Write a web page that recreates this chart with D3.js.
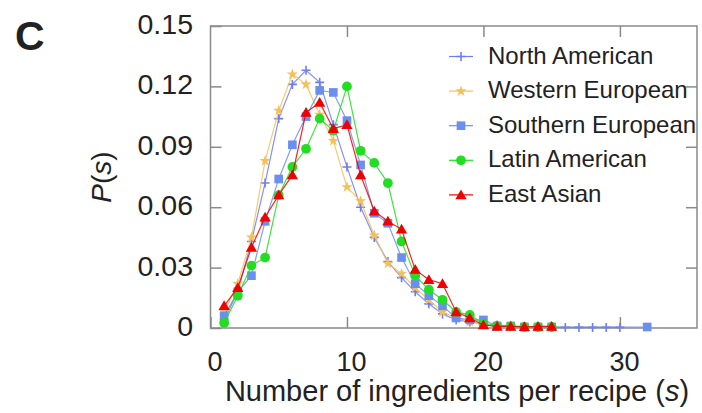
<!DOCTYPE html>
<html><head><meta charset="utf-8">
<script src="https://cdn.jsdelivr.net/npm/d3@7"></script>
<style>body{margin:0;background:#fff}svg{display:block}text{font-family:"Liberation Sans",Arial,sans-serif;fill:#222}</style>
</head><body>
<svg id="c" width="702" height="413"></svg>
<script>
const seriesNames = ["North American","Western European","Southern European","Latin American","East Asian"];
const naS = [1,2,3,4,5,6,7,8,9,10,11,12,13,14,15,16,17,18,19,20,21,22,23,24,25,26,27,28,29,30];
const naP = [0.004,0.018,0.043,0.072,0.104,0.121,0.128,0.122,0.101,0.080,0.060,0.045,0.033,0.025,0.018,0.012,0.007,0.004,0.003,0.002,0.0015,0.001,0.0008,0.0005,0.0004,0.0003,0.0003,0.0003,0.0003,0.0003];
const weS = [1,2,3,4,5,6,7,8,9,10,11,12,13,14,15,16,17,18,19,20,21,22];
const weP = [0.008,0.022,0.045,0.083,0.108,0.126,0.121,0.106,0.093,0.070,0.063,0.046,0.032,0.027,0.020,0.014,0.008,0.005,0.003,0.002,0.001,0.001];
const seS = [1,2,3,4,5,6,7,8,9,10,11,12,13,14,15,16,17,18,19,20,21,22,23,24,25,32];
const seP = [0.006,0.018,0.026,0.053,0.074,0.091,0.105,0.118,0.117,0.103,0.081,0.057,0.052,0.035,0.022,0.016,0.011,0.005,0.004,0.004,0.001,0.001,0.0005,0.0005,0.0005,0.0005];
const laS = [1,2,3,4,5,6,7,8,9,10,11,12,13,14,15,16,17,18,19,20,21,22,23,24,25];
const laP = [0.0025,0.016,0.031,0.035,0.066,0.080,0.089,0.104,0.098,0.120,0.088,0.082,0.072,0.043,0.026,0.019,0.014,0.008,0.0065,0.002,0.001,0.0008,0.0005,0.0005,0.0005];
const eaS = [1,2,3,4,5,6,7,8,9,10,11,12,13,14,15,16,17,18,19,20,21,22,23,24,25];
const eaP = [0.011,0.020,0.040,0.055,0.066,0.076,0.107,0.112,0.099,0.101,0.076,0.058,0.053,0.049,0.029,0.024,0.022,0.008,0.005,0.0015,0.0008,0.0008,0.0006,0.0008,0.0008];
const yTicks = [0,0.03,0.06,0.09,0.12,0.15];
const yTickLabels = ["0","0.03","0.06","0.09","0.12","0.15"];
const xTicks = [0,10,20,30];

const svg = d3.select("#c");
const L=210.5, R=697, T=26, B=328;
const x = d3.scaleLinear().domain([0,35.65]).range([L,R]);
const y = d3.scaleLinear().domain([0,0.15]).range([B,T]);

const frameCol="#8a8a8a";
svg.append("rect").attr("x",L).attr("y",T).attr("width",R-L).attr("height",B-T)
  .attr("fill","none").attr("stroke",frameCol).attr("stroke-width",1.5);

const yAxisL = d3.axisLeft(y).tickValues(yTicks).tickSize(-11).tickPadding(17.5).tickFormat((d,i)=>yTickLabels[i]);
const gy = svg.append("g").attr("transform",`translate(${L},0)`).call(yAxisL);
const yAxisR = d3.axisRight(y).tickValues(yTicks.slice(1,-1)).tickSize(-11).tickFormat("");
const gyr = svg.append("g").attr("transform",`translate(${R},0)`).call(yAxisR);
const xAxisB = d3.axisBottom(x).tickValues(xTicks).tickSize(-11).tickPadding(24).tickFormat(d3.format("d"));
const gx = svg.append("g").attr("transform",`translate(0,${B})`).call(xAxisB);
const xAxisT = d3.axisTop(x).tickValues(xTicks.slice(1)).tickSize(-11).tickFormat("");
const gxt = svg.append("g").attr("transform",`translate(0,${T})`).call(xAxisT);
[gy,gyr,gx,gxt].forEach(g=>{
  g.select(".domain").remove();
  g.selectAll(".tick line").attr("stroke",frameCol).attr("stroke-width",1.5);
  g.selectAll(".tick text").attr("fill","#222").attr("font-family","Liberation Sans, Arial, sans-serif");
});
gy.selectAll(".tick text").attr("font-size",28.5).attr("dy","0.26em");
gx.selectAll(".tick text").attr("font-size",27).attr("dy","0.72em").attr("dx",4);

const series = [
  {name:seriesNames[0], s:naS, p:naP, color:"#6e7df2", sym:"plus"},
  {name:seriesNames[1], s:weS, p:weP, color:"#f4c158", sym:"star"},
  {name:seriesNames[2], s:seS, p:seP, color:"#6b8ff0", sym:"square"},
  {name:seriesNames[3], s:laS, p:laP, color:"#22dd22", sym:"circle"},
  {name:seriesNames[4], s:eaS, p:eaP, color:"#f00000", sym:"triangle"}
];

function drawMarker(g, sym, color, cx, cy){
  if(sym==="plus"){
    g.append("path").attr("d",`M${cx-4.5},${cy}H${cx+4.5}M${cx},${cy-4.5}V${cy+4.5}`)
      .attr("stroke",color).attr("stroke-width",1.6).attr("fill","none");
  } else {
    const type = {star:d3.symbolStar, square:d3.symbolSquare, circle:d3.symbolCircle, triangle:d3.symbolTriangle}[sym];
    const size = {star:40, square:75, circle:75, triangle:55}[sym];
    g.append("path").attr("d",d3.symbol(type,size)()).attr("transform",`translate(${cx},${cy+(sym==="triangle"?1:0)})`)
      .attr("fill",color);
  }
}

const line = d3.line().x(d=>x(d[0])).y(d=>y(d[1]));
series.forEach(sr=>{
  const pts = sr.s.map((v,i)=>[v,sr.p[i]]);
  const g = svg.append("g");
  g.append("path").datum(pts).attr("d",line).attr("fill","none")
    .attr("stroke",sr.color).attr("stroke-width",1.2).attr("stroke-opacity",0.85);
  pts.forEach(d=>drawMarker(g, sr.sym, sr.color, x(d[0]), y(d[1])));
});

const lg = svg.append("g");
series.forEach((sr,i)=>{
  const by = 63.5 + i*34.6;
  const my = by - 7;
  lg.append("line").attr("x1",449).attr("x2",473).attr("y1",my).attr("y2",my)
    .attr("stroke",sr.color).attr("stroke-width",1.2);
  drawMarker(lg, sr.sym, sr.color, 461, my);
  lg.append("text").attr("x",488).attr("y",by).attr("font-size",24).text(sr.name);
});

const xt = svg.append("text").attr("x",457).attr("y",401).attr("text-anchor","middle").attr("font-size",29);
xt.append("tspan").text("Number of ingredients per recipe (");
xt.append("tspan").attr("font-style","italic").text("s");
xt.append("tspan").text(")");

const yt = svg.append("text").attr("transform","translate(111,177) rotate(-90)").attr("text-anchor","middle").attr("font-size",28);
yt.append("tspan").attr("font-style","italic").text("P");
yt.append("tspan").text("(");
yt.append("tspan").attr("font-style","italic").text("s");
yt.append("tspan").text(")");

svg.append("text").attr("x",15).attr("y",50).attr("font-size",41).attr("font-weight","bold").attr("fill","#111").text("C");
</script>
</body></html>
